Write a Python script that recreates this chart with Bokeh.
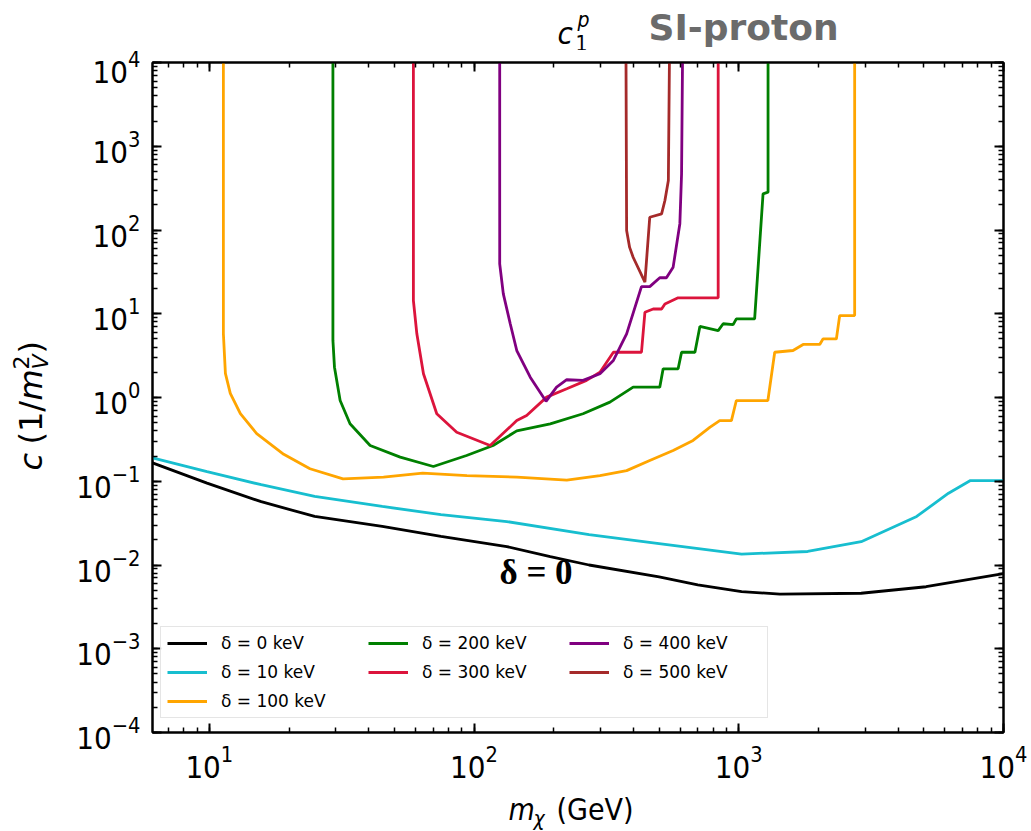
import numpy as np
from bokeh.plotting import figure
from bokeh.layouts import column, row
from bokeh.models import (LogAxis, LogTicker, Label, Legend, LegendItem, Range1d,
                          CustomJSTickFormatter)
from bokeh.embed import file_html
from bokeh.resources import INLINE

# Dark-matter mass (GeV) and upper limit on the coupling c_1^p for each mass splitting
m_d0 = [6.1, 9.8, 15.7, 25, 45, 75, 133, 194, 272, 500, 700, 1025, 1430, 2900, 5100, 10000]
c_d0 = [0.166, 0.095, 0.057, 0.038, 0.029, 0.022, 0.0166, 0.0126, 0.0100, 0.0072,
        0.0058, 0.0048, 0.0045, 0.0046, 0.0055, 0.0079]

m_d10 = [6.1, 9.8, 15.7, 25, 45, 75, 133, 272, 500, 1025, 1820, 2900, 4700, 6200, 7500, 10000]
c_d10 = [0.19, 0.13, 0.091, 0.066, 0.050, 0.040, 0.033, 0.023, 0.018, 0.0135, 0.0145,
         0.019, 0.038, 0.072, 0.102, 0.102]

m_d100 = [11.3, 11.3, 11.5, 12.0, 13.1, 15.1, 19.1, 24, 32, 45.5, 64, 94, 145, 224, 299,
          377, 461, 565, 672, 777, 847, 938, 979, 1288, 1367, 1603, 1750, 2022, 2080,
          2337, 2405, 2740, 2740]
c_d100 = [1e4, 5.8, 1.94, 1.12, 0.64, 0.37, 0.21, 0.141, 0.107, 0.112, 0.125, 0.117, 0.112,
          0.103, 0.117, 0.134, 0.177, 0.233, 0.307, 0.44, 0.53, 0.53, 0.92, 0.92, 3.47,
          3.64, 4.3, 4.3, 5.0, 5.0, 9.5, 9.5, 1e4]

m_d200 = [29.3, 29.3, 29.7, 31.2, 34, 40.5, 52.6, 70.2, 93.7, 118, 145, 194, 258, 326, 399,
          503, 518, 590, 608, 683, 713, 836, 873, 952, 979, 1148, 1235, 1290, 1290]
c_d200 = [1e4, 4.8, 2.3, 0.92, 0.485, 0.267, 0.194, 0.15, 0.203, 0.267, 0.40, 0.485, 0.64,
          0.88, 1.33, 1.33, 2.2, 2.2, 3.47, 3.47, 7.05, 6.3, 7.6, 7.4, 8.7, 8.7, 270, 283, 1e4]

m_d300 = [59, 59, 60.8, 64.4, 72.3, 86, 115, 145, 158, 188, 224, 266, 299, 336, 429, 442,
          475, 511, 526, 590, 836, 836]
c_d300 = [1e4, 14.4, 5.76, 1.92, 0.64, 0.385, 0.267, 0.53, 0.61, 1.01, 1.27, 1.6, 2.0, 3.47,
          3.47, 10.4, 11.4, 11.4, 13.1, 15.5, 15.5, 1e4]

m_d400 = [125, 125, 129, 137, 145, 163, 187, 205, 224, 258, 299, 336, 377, 429, 461, 503,
          533, 565, 599, 608, 613]
c_d400 = [1e4, 39.4, 17.3, 7.6, 3.64, 1.75, 0.90, 1.33, 1.63, 1.6, 1.92, 2.77, 5.76, 21.1,
          21.1, 26.9, 26.9, 36, 119, 469, 1e4]

m_d500 = [375, 377, 387, 399, 442, 461, 511, 526, 542, 547]
c_d500 = [1e4, 98.6, 62, 47.3, 23.8, 142, 156, 225, 390, 1e4]

labels = ["δ = 0 keV", "δ = 10 keV", "δ = 100 keV", "δ = 200 keV",
          "δ = 300 keV", "δ = 400 keV", "δ = 500 keV"]
colors = ["black", "#17becf", "orange", "green", "crimson", "purple", "brown"]
masses = [m_d0, m_d10, m_d100, m_d200, m_d300, m_d400, m_d500]
limits = [c_d0, c_d10, c_d100, c_d200, c_d300, c_d400, c_d500]

TICK_FONT = "DejaVu Sans Condensed"

# Page is built from four pieces: heading strip, y-title strip, main plot, x-title strip
W, H = 1031, 831
HEAD_H = 50          # heading strip height
XLAB_H = 41          # x-title strip height
YLAB_W = 60          # y-title strip width
MID_H = H - HEAD_H - XLAB_H
FRAME_L, FRAME_R, FRAME_T, FRAME_B = 152, 1003, 62, 732   # plot box on the page
TOP_B = FRAME_T - HEAD_H
BOT_B = HEAD_H + MID_H - FRAME_B

p = figure(width=W - YLAB_W, height=MID_H, x_axis_type="log", y_axis_type="log",
           x_range=Range1d(6.1, 1e4), y_range=Range1d(1e-4, 1e4),
           output_backend="svg", toolbar_location=None,
           min_border_left=FRAME_L - YLAB_W, min_border_right=W - FRAME_R,
           min_border_top=TOP_B, min_border_bottom=BOT_B)
p.xgrid.visible = False
p.ygrid.visible = False
p.outline_line_color = "black"
p.outline_line_width = 2
p.background_fill_color = "white"
p.border_fill_color = "white"

renderers = []
for m, c, col in zip(masses, limits, colors):
    renderers.append(p.line(m, c, line_color=col, line_width=2.8))


def style_axis(ax, size="31px"):
    ax.axis_line_width = 2
    ax.axis_line_color = "black"
    ax.major_tick_in = 9
    ax.major_tick_out = 0
    ax.minor_tick_in = 5
    ax.minor_tick_out = 0
    ax.major_tick_line_width = 2
    ax.minor_tick_line_width = 1.5
    ax.major_label_text_font = TICK_FONT
    ax.major_label_text_color = "black"
    ax.major_label_text_font_size = size


p.xaxis[0].ticker = LogTicker(num_minor_ticks=10)
p.yaxis[0].ticker = LogTicker(num_minor_ticks=10)
style_axis(p.xaxis[0])
style_axis(p.yaxis[0])
p.xaxis[0].major_label_standoff = 12
p.yaxis[0].major_label_standoff = 12

# mirrored axes on the top and right edges, ticks only
blank = CustomJSTickFormatter(code="return ''")
top_axis = LogAxis(formatter=blank, ticker=LogTicker(num_minor_ticks=10))
right_axis = LogAxis(formatter=blank, ticker=LogTicker(num_minor_ticks=10))
style_axis(top_axis, "1px")
style_axis(right_axis, "1px")
top_axis.major_label_standoff = 0
right_axis.major_label_standoff = 0
p.add_layout(top_axis, "above")
p.add_layout(right_axis, "right")

# Legend: three columns, filled row by row
order = [0, 3, 5, 1, 4, 6, 2]
items = [LegendItem(label=labels[i], renderers=[renderers[i]]) for i in order]
legend = Legend(items=items, location=(8, 14), orientation="horizontal", ncols=3,
                label_text_font="DejaVu Sans", label_text_font_size="17px",
                label_text_color="black",
                glyph_width=40, glyph_height=20, label_height=20, label_width=138,
                label_standoff=14, spacing=9, padding=6, margin=0,
                border_line_color="#cccccc", border_line_width=1,
                background_fill_color="white", background_fill_alpha=0.85)
p.add_layout(legend)


def text_strip(w, h, top=0, bottom=0):
    f = figure(width=w, height=h, x_range=Range1d(0, w), y_range=Range1d(0, h),
               output_backend="svg", toolbar_location=None,
               min_border_left=0, min_border_right=0,
               min_border_top=top, min_border_bottom=bottom,
               x_axis_location=None, y_axis_location=None)
    f.xgrid.visible = False
    f.ygrid.visible = False
    f.outline_line_color = None
    f.background_fill_color = "white"
    f.border_fill_color = "white"
    return f


head = text_strip(W, HEAD_H)
ylab = text_strip(YLAB_W, MID_H, top=TOP_B, bottom=BOT_B)
xlab = text_strip(W, XLAB_H)

BASE_K = 0.37   # distance from the label anchor down to the glyph baseline, in em


def put(fig, frame_left, frame_bottom, text, bx, by, size_px, font="DejaVu Sans",
        style="normal", color="black", vertical=False):
    """Place text whose baseline starts at page pixel (bx, by)."""
    shift = BASE_K * size_px
    if vertical:
        bx -= shift
    else:
        by -= shift
    fig.add_layout(Label(x=bx - frame_left, y=frame_bottom - by,
                         x_units="screen", y_units="screen",
                         text=text, text_font=font, text_font_size=f"{size_px}px",
                         text_font_style=style, text_color=color,
                         angle=np.pi / 2 if vertical else 0.0,
                         text_align="left", text_baseline="alphabetic"))


# Heading: c_1^p and "SI-proton"
put(head, 0, HEAD_H, "c", 557, 44, 31, font=TICK_FONT, style="italic")
put(head, 0, HEAD_H, "1", 575, 50, 21, font=TICK_FONT)
put(head, 0, HEAD_H, "p", 577, 27, 21, font=TICK_FONT, style="italic")
put(head, 0, HEAD_H, "SI-proton", 648, 40, 36, font="DejaVu Sans", style="bold",
    color="#6b6b6b")

# x axis title: m_chi (GeV)
put(xlab, 0, H, "m", 508, 820, 30, font=TICK_FONT, style="italic")
put(xlab, 0, H, "χ", 533, 826, 21, font=TICK_FONT, style="italic")
put(xlab, 0, H, "(GeV)", 556, 820, 30, font=TICK_FONT)

# y axis title: c (1/m_V^2), reading upwards
put(ylab, 0, FRAME_B, "c", 42, 470, 32, style="italic", vertical=True)
put(ylab, 0, FRAME_B, "(1/", 42, 444, 32, vertical=True)
put(ylab, 0, FRAME_B, "m", 42, 400, 32, style="italic", vertical=True)
put(ylab, 0, FRAME_B, "V", 48, 369, 22, style="italic", vertical=True)
put(ylab, 0, FRAME_B, "2", 29, 369, 22, vertical=True)
put(ylab, 0, FRAME_B, ")", 42, 353, 32, vertical=True)

# annotation of the zero-splitting curve (inside the plot frame)
put(p, FRAME_L, FRAME_B, "δ = 0", 499, 585, 35, font="Liberation Serif", style="bold")

page = column(head, row(ylab, p, spacing=0), xlab, spacing=0)
open("out.html", "w").write(file_html(page, INLINE))
